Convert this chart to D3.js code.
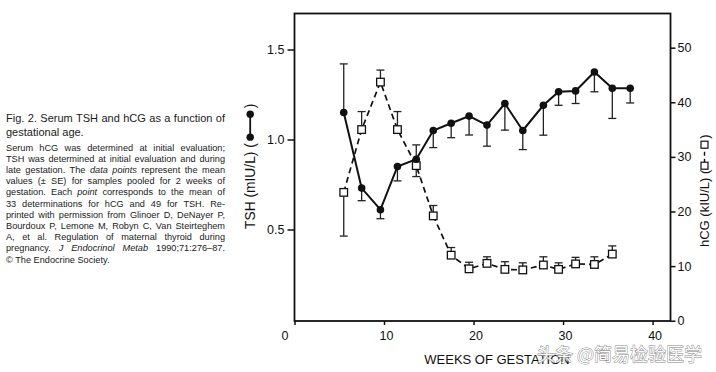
<!DOCTYPE html>
<html>
<head>
<meta charset="utf-8">
<script src="https://cdn.jsdelivr.net/npm/d3@7"></script>
<style>
  html, body { margin: 0; padding: 0; background: #fff; }
  svg { display: block; font-family: "Liberation Sans", Arial, sans-serif; }
</style>
</head>
<body>
<script>
// weeks of gestation (2-week pools)
var weeks = [5.5, 7.5, 9.6, 11.5, 13.6, 15.5, 17.5, 19.5, 21.5, 23.5, 25.5, 27.8, 29.5, 31.4, 33.5, 35.5, 37.5];
// TSH mean and the end of its SE bar
var tsh    = [1.15, 0.73, 0.61, 0.85, 0.89, 1.05, 1.09, 1.13, 1.08, 1.20, 1.05, 1.19, 1.265, 1.27, 1.375, 1.285, 1.285];
var tshErr = [1.42, 0.66, 0.56, 0.77, 0.97, 0.955, 1.01, 1.025, 0.963, 1.052, 0.944, 1.024, 1.19, 1.20, 1.265, 1.117, 1.203];
// hCG mean and the end of its SE bar (one pool fewer)
var hcg    = [23.5, 35.0, 43.7, 35.0, 28.4, 19.2, 12.0, 9.5, 10.5, 9.4, 9.3, 10.2, 9.4, 10.4, 10.3, 12.2];
var hcgErr = [15.5, 38.3, 45.9, 38.3, 26.4, 21.1, 13.4, 10.7, 11.7, 10.8, 10.6, 11.7, 10.6, 11.6, 11.7, 13.7];

var xTicks = [0, 10, 20, 30, 40];
var tshTicks = [0.5, 1.0, 1.5];
var hcgTicks = [0, 10, 20, 30, 40, 50];

var captionTitle = [
  [{t: "Fig. 2. Serum TSH and hCG as a function of"}],
  [{t: "gestational age."}]
];
var captionBody = [
  [{t: "Serum hCG was determined at initial evaluation;"}],
  [{t: "TSH was determined at initial evaluation and during"}],
  [{t: "late gestation. The "}, {t: "data points", i: true}, {t: " represent the mean"}],
  [{t: "values (\u00b1 SE) for samples pooled for 2 weeks of"}],
  [{t: "gestation. Each "}, {t: "point", i: true}, {t: " corresponds to the mean of"}],
  [{t: "33 determinations for hCG and 49 for TSH. Re-"}],
  [{t: "printed with permission from Glinoer D, DeNayer P,"}],
  [{t: "Bourdoux P, Lemone M, Robyn C, Van Steirteghem"}],
  [{t: "A, et al. Regulation of maternal thyroid during"}],
  [{t: "pregnancy. "}, {t: "J Endocrinol Metab", i: true}, {t: " 1990;71:276\u201387."}],
  [{t: "\u00a9 The Endocrine Society."}]
];

var width = 716, height = 372;
var pLeft = 294.5, pRight = 670.5, pTop = 13.5, pBottom = 321;

var svg = d3.select("body").append("svg")
  .attr("width", width).attr("height", height);
svg.append("rect").attr("width", width).attr("height", height).attr("fill", "#fff");

var x = d3.scaleLinear().domain([0, 42]).range([pLeft, pRight]);
var yT = d3.scaleLinear().domain([0, 1.7]).range([319.5, 13.5]);
var yH = d3.scaleLinear().domain([0, 56.26]).range([320.7, 13.5]);

// caption on the left
function writeLines(lines, y0, dy, size, justifyUpTo) {
  lines.forEach(function(segs, k) {
    var t = svg.append("text")
      .attr("x", 6).attr("y", y0 + k * dy)
      .attr("font-size", size).attr("fill", "#1a1a1a");
    segs.forEach(function(s) {
      t.append("tspan").attr("font-style", s.i ? "italic" : null).text(s.t);
    });
    if (k < justifyUpTo) {
      var w = t.node().getComputedTextLength();
      var n = segs.map(function(s) { return s.t; }).join("").split(" ").length - 1;
      if (n > 0) t.attr("word-spacing", (219 - w) / n);
    }
  });
}
writeLines(captionTitle, 121.5, 14, 11, 1);
writeLines(captionBody, 150.5, 11.2, 9.2, 10);

// frame
svg.append("rect").attr("x", pLeft).attr("y", pTop)
  .attr("width", pRight - pLeft).attr("height", pBottom - pTop)
  .attr("fill", "none").attr("stroke", "#111").attr("stroke-width", 1.8);

// axes
var xAxis = svg.append("g").attr("transform", "translate(0," + pBottom + ")")
  .call(d3.axisBottom(x).tickValues(xTicks).tickSize(4).tickFormat(d3.format("d")));
var yAxisL = svg.append("g").attr("transform", "translate(" + pLeft + ",0)")
  .call(d3.axisLeft(yT).tickValues(tshTicks).tickSize(7).tickPadding(3).tickFormat(d3.format(".1f")));
var yAxisR = svg.append("g").attr("transform", "translate(" + pRight + ",0)")
  .call(d3.axisRight(yH).tickValues(hcgTicks).tickSize(5).tickPadding(2).tickFormat(d3.format("d")));

[xAxis, yAxisL, yAxisR].forEach(function(a) {
  a.select(".domain").remove();
  a.selectAll("line").attr("stroke", "#111").attr("stroke-width", 1.5);
  a.selectAll("text").attr("font-size", 12.5).attr("fill", "#111")
    .attr("font-family", "Liberation Sans, Arial, sans-serif");
});
xAxis.selectAll("text").attr("dy", "0.95em")
  .attr("dx", function(d) { return d === 0 ? -10 : 2; });

// x title
svg.append("text").attr("x", 497).attr("y", 364).attr("text-anchor", "middle")
  .attr("font-size", 13).attr("fill", "#111").text("WEEKS OF GESTATION");

// left title with legend icon (TSH, filled dots, solid line)
var lt = svg.append("g").attr("transform", "translate(255,229) rotate(-90)");
var ltText = lt.append("text").attr("x", 0).attr("y", 0).attr("font-size", 13.8).attr("fill", "#111")
  .text("TSH (mIU/L) (");
var lw = ltText.node().getComputedTextLength();
lt.append("line").attr("x1", lw + 6).attr("x2", lw + 29).attr("y1", -4.8).attr("y2", -4.8)
  .attr("stroke", "#111").attr("stroke-width", 1.8);
lt.selectAll("circle.ic").data([lw + 6, lw + 29]).join("circle")
  .attr("cx", function(d) { return d; }).attr("cy", -4.8).attr("r", 3.7).attr("fill", "#111");
lt.append("text").attr("x", lw + 35).attr("y", 0).attr("font-size", 13.8).attr("fill", "#111").text(")");

// right title with legend icon (hCG, open squares, dashed line)
var rt = svg.append("g").attr("transform", "translate(709,247) rotate(-90)");
var rtText = rt.append("text").attr("x", 0).attr("y", 0).attr("font-size", 13).attr("fill", "#111")
  .text("hCG (kIU/L)  (");
var rw = rtText.node().getComputedTextLength();
rt.append("line").attr("x1", rw + 7).attr("x2", rw + 25).attr("y1", -4.5).attr("y2", -4.5)
  .attr("stroke", "#111").attr("stroke-width", 1.4).attr("stroke-dasharray", "4,3");
rt.selectAll("rect.ic").data([rw + 4, rw + 25]).join("rect")
  .attr("x", function(d) { return d - 3.5; }).attr("y", -8).attr("width", 7).attr("height", 7)
  .attr("fill", "#fff").attr("stroke", "#111").attr("stroke-width", 1.2);
rt.append("text").attr("x", rw + 31).attr("y", 0).attr("font-size", 13).attr("fill", "#111").text(")");

// series data
var tshData = weeks.map(function(w, i) { return {w: w, v: tsh[i], e: tshErr[i]}; });
var hcgData = hcg.map(function(v, i) { return {w: weeks[i], v: v, e: hcgErr[i]}; });

var plot = svg.append("g");

function errorBars(data, y) {
  var g = plot.append("g").attr("stroke", "#222").attr("stroke-width", 1.3);
  g.selectAll("line.v").data(data).join("line")
    .attr("x1", function(d) { return x(d.w); }).attr("x2", function(d) { return x(d.w); })
    .attr("y1", function(d) { return y(d.v); }).attr("y2", function(d) { return y(d.e); });
  g.selectAll("line.c").data(data).join("line")
    .attr("x1", function(d) { return x(d.w) - 4; }).attr("x2", function(d) { return x(d.w) + 4; })
    .attr("y1", function(d) { return y(d.e); }).attr("y2", function(d) { return y(d.e); });
}
errorBars(tshData, yT);
errorBars(hcgData, yH);

var hcgLine = d3.line().x(function(d) { return x(d.w); }).y(function(d) { return yH(d.v); });
plot.append("path").attr("d", hcgLine(hcgData)).attr("fill", "none")
  .attr("stroke", "#111").attr("stroke-width", 1.7).attr("stroke-dasharray", "6,4");

var tshLine = d3.line().x(function(d) { return x(d.w); }).y(function(d) { return yT(d.v); });
plot.append("path").attr("d", tshLine(tshData)).attr("fill", "none")
  .attr("stroke", "#111").attr("stroke-width", 2);

plot.selectAll("rect.sq").data(hcgData).join("rect")
  .attr("x", function(d) { return x(d.w) - 3.8; }).attr("y", function(d) { return yH(d.v) - 3.8; })
  .attr("width", 7.6).attr("height", 7.6)
  .attr("fill", "#fff").attr("stroke", "#111").attr("stroke-width", 1.3);

plot.selectAll("circle.pt").data(tshData).join("circle")
  .attr("cx", function(d) { return x(d.w); }).attr("cy", function(d) { return yT(d.v); })
  .attr("r", 3.8).attr("fill", "#111");

// watermark
svg.append("text").attr("x", 537).attr("y", 361)
  .attr("font-family", "Noto Sans CJK SC, sans-serif").attr("font-size", 18)
  .attr("fill", "#fff").attr("stroke", "#777").attr("stroke-width", 0.9)
  .attr("paint-order", "stroke").attr("opacity", 0.9)
  .text("头条 @简易检验医学");
</script>
</body>
</html>
